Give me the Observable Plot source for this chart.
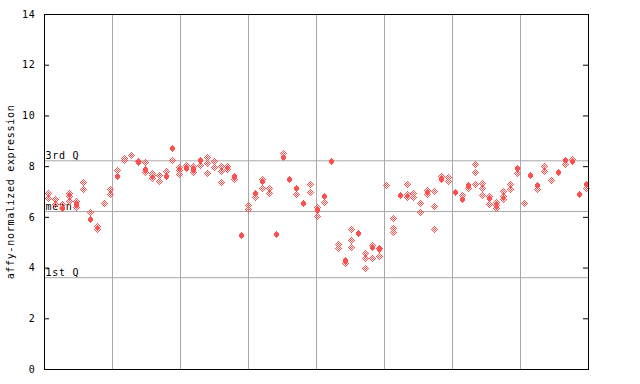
<!DOCTYPE html>
<html><head><meta charset="utf-8">
<script src="https://cdn.jsdelivr.net/npm/d3@7"></script>
<script src="https://cdn.jsdelivr.net/npm/@observablehq/plot@0.6"></script>
<style>body{margin:0;background:#fff}</style></head>
<body><div id="chart"></div>
<script>
// checkered (hollow) markers per sample column
const hatchValues = [
  [6.98, 6.8], [6.73, 6.53], [6.53], [7.0, 6.85, 6.68], [6.66, 6.43], [7.4, 7.13], [6.23], [5.69, 5.56], [6.57], [7.13, 6.93],
  [7.89], [8.37, 8.27], [8.48], [8.24], [8.19, 7.82], [7.78, 7.68, 7.56], [7.68, 7.47], [7.85], [8.28], [8.0, 7.87, 7.71],
  [8.08], [8.05, 7.8], [8.08], [8.4, 8.15, 7.76], [8.23, 8.0], [8.04, 7.85, 7.4], [8.06, 7.93], [7.52], [], [6.51, 6.34],
  [6.82], [7.55, 7.17], [7.19, 6.97], [], [8.57], [], [6.93], [], [7.32, 7.02], [6.43, 6.07],
  [6.64], [], [4.96, 4.8], [4.23], [5.55, 5.11, 4.86], [], [4.6, 4.43, 4.01], [4.92, 4.4], [4.82, 4.48], [7.28],
  [5.98, 5.59, 5.44], [], [7.32, 6.95, 6.82], [6.99, 6.83], [6.6, 6.23], [7.09, 6.93], [7.06, 6.47, 5.55], [7.66], [7.61, 7.45], [],
  [6.89], [7.19], [8.11, 7.79, 7.32], [7.39, 7.17, 6.89], [6.85, 6.53], [6.64, 6.51, 6.4], [7.06, 6.86, 6.73], [7.32, 7.15], [7.78], [6.59],
  [], [7.13], [8.04, 7.85], [7.48], [], [8.14], [8.33], [], [7.19]
];
// filled markers per sample column
const solidValues = [
  [], [], [6.4], [], [6.55], [], [5.97], [], [], [],
  [7.64], [], [], [8.19], [7.91], [], [], [7.66], [8.74], [],
  [7.95], [7.93], [8.29], [], [], [], [], [7.66], [5.31], [],
  [6.97], [7.45], [], [5.35], [8.41], [7.53], [7.19], [6.6], [], [6.3],
  [6.86], [8.24], [], [4.33], [], [5.42], [], [4.85], [4.76], [],
  [], [6.9], [], [], [], [7.03], [], [7.52], [], [7.02],
  [6.73], [7.31], [], [], [6.77], [], [], [], [7.98], [],
  [7.69], [7.31], [], [], [7.82], [8.27], [8.26], [6.95], [7.32]
];
const quartileLabels = ["1st Q", "mean", "3rd Q"];
const quartileValues = [3.62, 6.23, 8.23];
const yTicks = [0, 2, 4, 6, 8, 10, 12, 14];
const groupCount = 8;
const yAxisLabel = "affy-normalized expression";

const red = "#ff5050";
const grid = "#a8a8a8";
const N = hatchValues.length;
const hatch = hatchValues.flatMap((vs, i) => vs.map(v => ({i, v})));
const solid = solidValues.flatMap((vs, i) => vs.map(v => ({i, v})));
const dividers = d3.range(1, groupCount).map(k => k * N / groupCount);

// pixel-checkered diamond (7x7) and solid pixel diamond (5x7)
const checkerDiamond = {draw(c) {
  for (let dy = -3; dy <= 3; dy++) for (let dx = -3; dx <= 3; dx++)
    if (Math.abs(dx) + Math.abs(dy) <= 3 && (dx + dy + 8) % 2 === 1) c.rect(dx, dy, 1, 1);
}};
const solidDiamond = {draw(c) {
  const rows = [[0, 0], [-1, 1], [-2, 2], [-2, 2], [-2, 2], [-1, 1], [0, 0]];
  rows.forEach(([a, b], k) => c.rect(a, k - 3, b - a + 1, 1));
}};

const svg = Plot.plot({
  width: 640, height: 384,
  marginLeft: 44, marginRight: 52, marginTop: 14, marginBottom: 15,
  style: {fontFamily: "'DejaVu Sans Mono', monospace", fontSize: "10px", color: "black", background: "white"},
  x: {domain: [0, N], axis: null},
  y: {domain: [0, 14], axis: null},
  marks: [
    Plot.ruleX(dividers, {stroke: grid, strokeWidth: 1}),
    Plot.ruleY(quartileValues, {stroke: grid, strokeWidth: 1}),
    Plot.text(quartileLabels, {y: (d, i) => quartileValues[i], text: d => d, frameAnchor: "left", textAnchor: "start", dx: 1, dy: -5, fill: "black"}),
    Plot.dot(hatch, {x: d => d.i + 0.5, y: "v", symbol: checkerDiamond, fill: red, stroke: null, className: "pix"}),
    Plot.dot(solid, {x: d => d.i + 0.5, y: "v", symbol: solidDiamond, fill: red, stroke: null, className: "pix"}),
    Plot.tickY(yTicks, {y: d => d, insetRight: 539, stroke: "black"}),
    Plot.tickY(yTicks, {y: d => d, insetLeft: 539, stroke: "black"}),
    Plot.axisY(yTicks, {anchor: "left", tickSize: 0, tickPadding: 9, label: null, fill: "black"}),
    Plot.text([yAxisLabel], {frameAnchor: "left", textAnchor: "middle", rotate: -90, dx: -34, text: d => d, fill: "black"}),
    Plot.frame({stroke: "black"})
  ]
});
// snap marker positions (computed by the scales) to whole pixels
d3.select(svg).selectAll(".pix path").each(function() {
  const t = this.getAttribute("transform");
  if (t) this.setAttribute("transform", t.replace(/-?\d+(\.\d+)?/g, s => Math.round(+s)));
  this.setAttribute("shape-rendering", "crispEdges");
});
d3.select(svg).selectAll("text").attr("letter-spacing", "0.7px");
document.getElementById("chart").appendChild(svg);
</script>
</body></html>
